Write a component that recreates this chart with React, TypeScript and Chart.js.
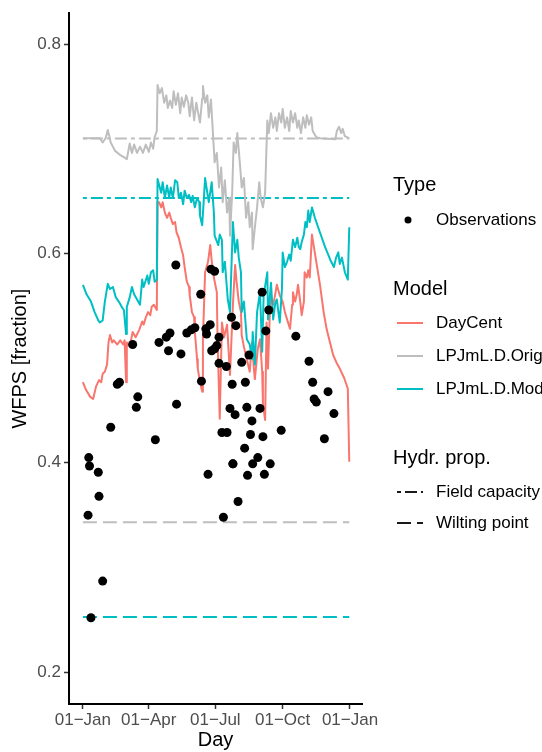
import React, { useEffect, useRef } from 'react';
import { Chart, registerables } from 'chart.js';

Chart.register(...registerables);

const FONT = '"Liberation Sans", Arial, Helvetica, sans-serif';

// ---- axes ----
const xTickDays = [0, 90, 181, 273, 365];
const xTickLabels = ['01\u2212Jan', '01\u2212Apr', '01\u2212Jul', '01\u2212Oct', '01\u2212Jan'];
const yTickValues = [0.2, 0.4, 0.6, 0.8];
const xAxisRange = [-19, 381.4];
const yAxisRange = [0.1696, 0.8295];

// ---- legend names ----
const typeNames = ['Observations'];
const modelNames = ['DayCent', 'LPJmL.D.Orig', 'LPJmL.D.Mod'];
const modelColors = ['#F8766D', '#BEBEBE', '#00BFC4'];
const hydrNames = ['Field capacity', 'Wilting point'];

// ---- observations ----
const obsDays = [
  7, 8, 9, 11, 21, 22, 27, 38, 47, 50, 68, 73, 75, 99, 104, 114, 117, 119, 127, 128,
  134, 142, 148, 153, 161, 162, 168, 169, 171, 174, 175, 176, 180, 180, 183, 186, 186, 190, 192, 196,
  197, 201, 203, 204, 205, 208, 209, 212, 217, 221, 222, 224, 225, 227, 229, 231, 232, 239, 242, 245,
  246, 248, 250, 254, 256, 271, 291, 309, 314, 316, 319, 330, 335, 343, 205,
];
const obsValues = [
  0.350, 0.405, 0.397, 0.252, 0.391, 0.368, 0.287, 0.434, 0.475, 0.477, 0.513, 0.453, 0.463, 0.422, 0.515, 0.520, 0.507, 0.524, 0.589, 0.456,
  0.504, 0.524, 0.527, 0.529, 0.561, 0.478, 0.528, 0.523, 0.389, 0.532, 0.585, 0.507, 0.583, 0.509, 0.512, 0.520, 0.495, 0.429, 0.348, 0.492,
  0.429, 0.452, 0.539, 0.475, 0.399, 0.446, 0.531, 0.363, 0.496, 0.414, 0.477, 0.453, 0.388, 0.503, 0.427, 0.440, 0.399, 0.405, 0.452, 0.563,
  0.425, 0.389, 0.526, 0.546, 0.399, 0.431, 0.521, 0.497, 0.477, 0.461, 0.458, 0.423, 0.468, 0.447, 0.399,
];

// ---- DayCent ----
const dayCentDays = [
  0, 4, 10, 14, 18, 22, 25, 27, 30, 33, 35, 37, 40, 42, 47, 51, 55, 57, 59, 60,
  64, 68, 72, 77, 81, 83, 86, 89, 92, 94, 97, 101, 102, 104, 107, 109, 112, 115, 118, 120,
  123, 126, 128, 131, 134, 137, 139, 142, 145, 146, 149, 152, 153, 156, 157, 160, 163, 164, 167, 169,
  171, 174, 176, 179, 183, 184, 187, 190, 193, 197, 201, 205, 208, 210, 213, 216, 217, 220, 224, 228,
  231, 234, 235, 239, 242, 245, 246, 249, 251, 253, 256, 260, 262, 265, 269, 273, 276, 279, 283, 286,
  287, 290, 292, 294, 297, 299, 302, 303, 306, 308, 310, 313, 318, 324, 329, 333, 338, 342, 347, 351,
  357, 362, 364,
];
const dayCentValues = [
  0.477, 0.470, 0.463, 0.461, 0.473, 0.479, 0.477, 0.485, 0.487, 0.494, 0.515, 0.522, 0.515, 0.517, 0.513, 0.517, 0.513, 0.517, 0.477, 0.515,
  0.511, 0.525, 0.520, 0.527, 0.535, 0.532, 0.539, 0.544, 0.541, 0.549, 0.551, 0.546, 0.649, 0.649, 0.644, 0.649, 0.639, 0.634, 0.639, 0.634,
  0.628, 0.630, 0.620, 0.615, 0.606, 0.598, 0.587, 0.573, 0.568, 0.560, 0.544, 0.539, 0.525, 0.499, 0.490, 0.477, 0.468, 0.518, 0.582, 0.587,
  0.592, 0.608, 0.593, 0.577, 0.563, 0.518, 0.442, 0.534, 0.520, 0.532, 0.484, 0.551, 0.589, 0.573, 0.554, 0.544, 0.522, 0.511, 0.499, 0.487,
  0.515, 0.487, 0.480, 0.509, 0.518, 0.487, 0.456, 0.441, 0.534, 0.490, 0.556, 0.551, 0.558, 0.570, 0.560, 0.554, 0.544, 0.537, 0.528, 0.551,
  0.563, 0.554, 0.560, 0.570, 0.554, 0.541, 0.554, 0.582, 0.577, 0.584, 0.577, 0.618, 0.596, 0.570, 0.544, 0.528, 0.514, 0.503, 0.495, 0.490,
  0.481, 0.471, 0.401,
];

// ---- LPJmL.D.Orig ----
const origDays = [
  0, 23, 27, 31, 34, 38, 44, 51, 56, 60, 64, 67, 70, 74, 78, 82, 86, 90, 93, 96,
  98, 101, 102, 105, 108, 111, 114, 116, 119, 122, 124, 127, 130, 133, 135, 138, 141, 144, 146, 149,
  152, 155, 157, 160, 163, 164, 167, 170, 172, 175, 178, 180, 183, 186, 189, 191, 194, 197, 200, 201,
  204, 206, 209, 211, 215, 217, 220, 223, 226, 228, 231, 232, 235, 238, 241, 243, 246, 249, 252, 254,
  257, 260, 263, 265, 268, 271, 273, 276, 279, 282, 284, 287, 290, 293, 295, 298, 301, 304, 306, 309,
  312, 314, 319, 324, 345, 347, 350, 353, 355, 358, 364,
];
const origValues = [
  0.710, 0.710, 0.706, 0.710, 0.718, 0.706, 0.698, 0.694, 0.692, 0.690, 0.705, 0.696, 0.704, 0.696, 0.702, 0.696, 0.704, 0.697, 0.706, 0.700,
  0.711, 0.717, 0.761, 0.753, 0.758, 0.744, 0.751, 0.739, 0.746, 0.739, 0.755, 0.742, 0.753, 0.734, 0.749, 0.740, 0.751, 0.744, 0.731, 0.749,
  0.727, 0.744, 0.736, 0.725, 0.748, 0.760, 0.744, 0.751, 0.730, 0.747, 0.711, 0.687, 0.696, 0.663, 0.682, 0.649, 0.670, 0.639, 0.653, 0.617,
  0.658, 0.706, 0.696, 0.715, 0.682, 0.663, 0.672, 0.634, 0.649, 0.625, 0.639, 0.604, 0.625, 0.644, 0.668, 0.653, 0.644, 0.658, 0.727, 0.715,
  0.734, 0.720, 0.730, 0.717, 0.734, 0.725, 0.738, 0.720, 0.730, 0.717, 0.736, 0.725, 0.734, 0.720, 0.727, 0.715, 0.730, 0.720, 0.732, 0.723,
  0.730, 0.717, 0.711, 0.710, 0.709, 0.717, 0.721, 0.715, 0.719, 0.712, 0.710,
];

// ---- LPJmL.D.Mod ----
const modDays = [
  0, 5, 11, 16, 21, 23, 27, 30, 34, 37, 41, 45, 49, 53, 56, 59, 60, 64, 67, 70,
  74, 78, 81, 83, 88, 90, 93, 96, 98, 101, 102, 107, 109, 112, 115, 118, 120, 123, 126, 129,
  131, 134, 137, 139, 142, 145, 148, 150, 153, 156, 159, 160, 163, 165, 167, 170, 172, 175, 176, 179,
  180, 185, 187, 190, 191, 194, 198, 201, 205, 208, 211, 213, 216, 217, 220, 224, 228, 231, 232, 235,
  238, 242, 245, 247, 252, 253, 257, 260, 263, 265, 269, 272, 273, 276, 279, 282, 284, 287, 290, 293,
  295, 297, 299, 302, 304, 306, 308, 310, 313, 317, 324, 331, 338, 343, 346, 349, 351, 354, 358, 362,
  364,
];
const modValues = [
  0.570, 0.561, 0.554, 0.544, 0.536, 0.534, 0.536, 0.554, 0.571, 0.566, 0.568, 0.558, 0.554, 0.549, 0.546, 0.523, 0.549, 0.558, 0.568, 0.561,
  0.556, 0.551, 0.575, 0.568, 0.579, 0.571, 0.582, 0.584, 0.573, 0.575, 0.671, 0.658, 0.668, 0.653, 0.665, 0.653, 0.663, 0.653, 0.670, 0.668,
  0.653, 0.658, 0.647, 0.660, 0.653, 0.656, 0.649, 0.655, 0.644, 0.653, 0.649, 0.636, 0.627, 0.649, 0.672, 0.658, 0.649, 0.663, 0.668, 0.639,
  0.617, 0.608, 0.618, 0.613, 0.582, 0.592, 0.556, 0.544, 0.630, 0.601, 0.613, 0.596, 0.582, 0.544, 0.554, 0.518, 0.513, 0.499, 0.525, 0.494,
  0.544, 0.563, 0.506, 0.560, 0.582, 0.537, 0.572, 0.537, 0.553, 0.556, 0.534, 0.566, 0.601, 0.587, 0.592, 0.599, 0.593, 0.613, 0.606, 0.615,
  0.606, 0.604, 0.611, 0.618, 0.630, 0.625, 0.641, 0.630, 0.644, 0.634, 0.620, 0.606, 0.594, 0.587, 0.596, 0.601, 0.590, 0.596, 0.582, 0.575,
  0.625,
];

// ---- hydraulic properties (Orig, Mod) ----
const hydrDays = [0, 364];
const fieldCapacity = [0.7097, 0.653];
const wiltingPoint = [0.3433, 0.2526];

const toPoints = (xs: number[], ys: number[]) => xs.map((x, i) => ({ x, y: ys[i] }));

const legendPlugin = {
  id: 'ggLegend',
  afterDraw(chart: any) {
    const ctx: CanvasRenderingContext2D = chart.ctx;
    ctx.save();
    ctx.textAlign = 'left';
    ctx.textBaseline = 'middle';
    ctx.fillStyle = '#000000';
    const titleX = 393;
    const keyX0 = 397;
    const keyX1 = 423;
    const labelX = 436;
    const titleFont = `20px ${FONT}`;
    const labelFont = `17px ${FONT}`;

    ctx.font = titleFont;
    ctx.fillText('Type', titleX, 185);
    ctx.beginPath();
    ctx.arc(408, 220, 3.5, 0, Math.PI * 2);
    ctx.fill();
    ctx.font = labelFont;
    ctx.fillText(typeNames[0], labelX, 220);

    ctx.font = titleFont;
    ctx.fillText('Model', titleX, 289);
    modelNames.forEach((name, i) => {
      const y = 323 + i * 33;
      ctx.beginPath();
      ctx.strokeStyle = modelColors[i];
      ctx.lineWidth = 2;
      ctx.setLineDash([]);
      ctx.moveTo(keyX0, y);
      ctx.lineTo(keyX1, y);
      ctx.stroke();
      ctx.font = labelFont;
      ctx.fillStyle = '#000000';
      ctx.fillText(name, labelX, y);
    });

    ctx.font = titleFont;
    ctx.fillText('Hydr. prop.', titleX, 458);
    const dashes = [[4, 4, 12, 4], [14, 6]];
    hydrNames.forEach((name, i) => {
      const y = 492 + i * 31;
      ctx.beginPath();
      ctx.strokeStyle = '#1a1a1a';
      ctx.lineWidth = 2;
      ctx.setLineDash(dashes[i]);
      ctx.moveTo(keyX0, y);
      ctx.lineTo(keyX1, y);
      ctx.stroke();
      ctx.setLineDash([]);
      ctx.font = labelFont;
      ctx.fillText(name, labelX, y);
    });
    ctx.restore();
  },
};

export default function App() {
  const canvasRef = useRef<HTMLCanvasElement | null>(null);

  useEffect(() => {
    if (!canvasRef.current) return;
    const lineCommon = {
      showLine: true,
      pointRadius: 0,
      borderWidth: 2,
      borderJoinStyle: 'round' as const,
      fill: false,
      tension: 0,
    };
    const hlineDatasets: any[] = [];
    [0, 1].forEach((m) => {
      const color = m === 0 ? modelColors[1] : modelColors[2];
      hlineDatasets.push({
        ...lineCommon,
        label: `${hydrNames[0]} ${modelNames[m + 1]}`,
        data: toPoints(hydrDays, [fieldCapacity[m], fieldCapacity[m]]),
        borderColor: color,
        borderDash: [4, 4, 12, 4],
        order: 5,
      });
      hlineDatasets.push({
        ...lineCommon,
        label: `${hydrNames[1]} ${modelNames[m + 1]}`,
        data: toPoints(hydrDays, [wiltingPoint[m], wiltingPoint[m]]),
        borderColor: color,
        borderDash: [14, 6],
        order: 5,
      });
    });

    const chart = new Chart(canvasRef.current, {
      type: 'scatter',
      data: {
        datasets: [
          {
            label: typeNames[0],
            data: toPoints(obsDays, obsValues),
            showLine: false,
            pointRadius: 4.5,
            pointBackgroundColor: '#000000',
            pointBorderWidth: 0,
            backgroundColor: '#000000',
            order: 0,
          },
          { ...lineCommon, label: modelNames[2], data: toPoints(modDays, modValues), borderColor: modelColors[2], order: 1 },
          { ...lineCommon, label: modelNames[1], data: toPoints(origDays, origValues), borderColor: modelColors[1], order: 2 },
          { ...lineCommon, label: modelNames[0], data: toPoints(dayCentDays, dayCentValues), borderColor: modelColors[0], order: 3 },
          ...hlineDatasets,
        ] as any,
      },
      options: {
        animation: false,
        responsive: false,
        devicePixelRatio: 1,
        events: [],
        layout: { padding: { top: 10, right: 180, left: 0, bottom: 0 } },
        plugins: { legend: { display: false }, tooltip: { enabled: false } },
        scales: {
          x: {
            type: 'linear',
            min: xAxisRange[0],
            max: xAxisRange[1],
            afterBuildTicks: (s: any) => {
              s.ticks = xTickDays.map((v) => ({ value: v }));
            },
            afterFit: (s: any) => {
              s.height = 48;
            },
            ticks: {
              callback: (_v: any, i: number) => xTickLabels[i],
              color: '#4D4D4D',
              font: { size: 17, family: FONT },
              padding: 1,
              maxRotation: 0,
              autoSkip: false,
            },
            grid: {
              display: true,
              drawOnChartArea: false,
              drawTicks: true,
              tickLength: 5,
              tickColor: '#333333',
              tickWidth: 1.5,
            },
            border: { display: true, color: '#000000', width: 2 },
            title: {
              display: true,
              text: 'Day',
              color: '#000000',
              font: { size: 20, family: FONT },
              padding: { top: 0, bottom: 0 },
            },
          },
          y: {
            type: 'linear',
            min: yAxisRange[0],
            max: yAxisRange[1],
            afterBuildTicks: (s: any) => {
              s.ticks = yTickValues.map((v) => ({ value: v }));
            },
            afterFit: (s: any) => {
              s.width = 69;
            },
            ticks: {
              callback: (v: any) => Number(v).toFixed(1),
              color: '#4D4D4D',
              font: { size: 17, family: FONT },
              padding: 3,
            },
            grid: {
              display: true,
              drawOnChartArea: false,
              drawTicks: true,
              tickLength: 5,
              tickColor: '#333333',
              tickWidth: 1.5,
            },
            border: { display: true, color: '#000000', width: 2 },
            title: {
              display: true,
              text: 'WFPS [fraction]',
              color: '#000000',
              font: { size: 20, family: FONT },
              padding: { top: 8, bottom: 0 },
            },
          },
        },
      } as any,
      plugins: [legendPlugin],
    });
    return () => chart.destroy();
  }, []);

  return (
    <div style={{ position: 'fixed', left: 0, top: 0, width: 542, height: 752, background: '#ffffff' }}>
      <canvas ref={canvasRef} width={542} height={752} style={{ width: 542, height: 752, display: 'block' }} />
    </div>
  );
}
